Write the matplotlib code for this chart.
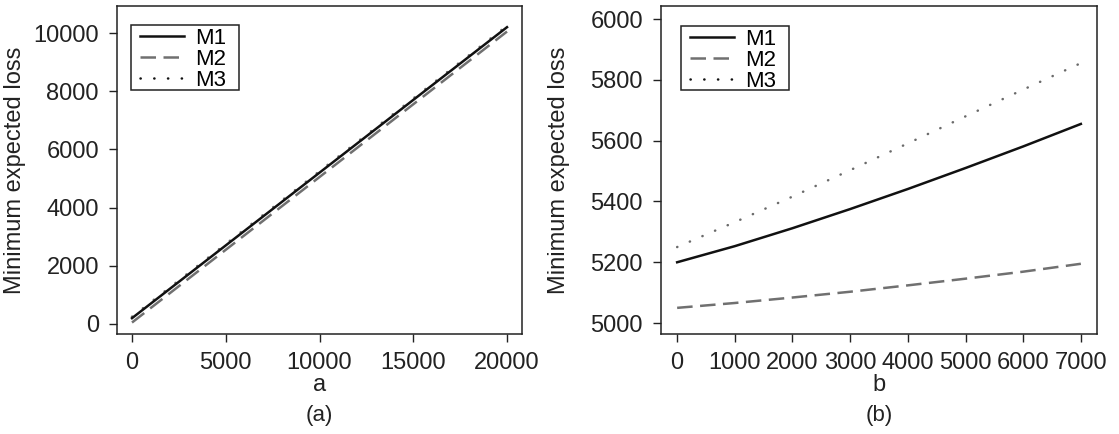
import matplotlib
matplotlib.use("Agg")
import matplotlib.pyplot as plt
from matplotlib.lines import Line2D
from matplotlib.patches import Rectangle

plt.rcParams['font.family'] = ['Liberation Sans', 'DejaVu Sans']

# Panel (a): loss vs a
a_vals = [0, 5000, 10000, 15000, 20000]
a_M1 = [200, 2700, 5200, 7700, 10200]
a_M2 = [50, 2550, 5050, 7550, 10050]
a_M3 = [250, 2750, 5250, 7750, 10250]
a_yticks = [0, 2000, 4000, 6000, 8000, 10000]
a_xticks = [0, 5000, 10000, 15000, 20000]

# Panel (b): loss vs b
b_vals = [0, 1000, 2000, 3000, 4000, 5000, 6000, 7000]
b_M1 = [5200, 5253, 5312, 5375, 5441, 5510, 5581, 5655]
b_M2 = [5050, 5066, 5084, 5103, 5124, 5146, 5169, 5195]
b_M3 = [5250, 5332, 5416, 5503, 5591, 5680, 5768, 5855]
b_yticks = [5000, 5200, 5400, 5600, 5800, 6000]
b_xticks = [0, 1000, 2000, 3000, 4000, 5000, 6000, 7000]

labels = ["M1", "M2", "M3"]
FS = 17
W, H = 1119, 434
fig = plt.figure(figsize=(W / 100, H / 100), dpi=100)

axA = fig.add_axes([117 / W, (H - 334) / H, 405 / W, 328 / H])
axB = fig.add_axes([661 / W, (H - 334) / H, 436 / W, 328 / H])

lw = 1.8
dash_style = (0, (6.2, 3.0))
dot_style = (0, (0.1, 5.4))
TXT = '#222222'


def draw(ax, x, m1, m2, m3):
    ax.plot(x, m3, color='#6a6a6a', lw=lw, linestyle=dot_style,
            dash_capstyle='round', zorder=2)
    ax.plot(x, m2, color='#707070', lw=lw, linestyle=dash_style,
            dash_capstyle='butt', zorder=3)
    ax.plot(x, m1, color='#111111', lw=lw, linestyle='-', zorder=4)


draw(axA, a_vals, a_M1, a_M2, a_M3)
draw(axB, b_vals, b_M1, b_M2, b_M3)

axA.set_xlim(-800, 20800)
axA.set_ylim(-344, 10928)
axA.set_xticks(a_xticks)
axA.set_yticks(a_yticks)

axB.set_xlim(-280, 7280)
axB.set_ylim(4964, 6043)
axB.set_xticks(b_xticks)
axB.set_yticks(b_yticks)

handles = [
    Line2D([], [], color='#111111', lw=lw, linestyle='-'),
    Line2D([], [], color='#707070', lw=lw, linestyle=dash_style),
    Line2D([], [], color='#111111', lw=lw, linestyle=dot_style,
           dash_capstyle='round'),
]

# (axes, xlabel, caption, ylabel x, legend frame px (x0, x1, y0, y1), axes px left, width)
specs = [(axA, 'a', '(a)', (15.5 - 117) / 405, (131, 239, 25, 90), 117, 405),
         (axB, 'b', '(b)', (559.5 - 661) / 436, (681, 789, 26, 90), 661, 436)]

for ax, xl, cap, ylx, fr, ax0, aw in specs:
    for s in ax.spines.values():
        s.set_linewidth(1.1)
        s.set_color(TXT)
    ax.tick_params(axis='both', direction='out', length=6, width=1.0,
                   color=TXT, labelsize=FS, labelcolor=TXT)
    ax.tick_params(axis='x', pad=7)
    ax.tick_params(axis='y', pad=7)
    ax.text(0.5, -0.1738, xl, transform=ax.transAxes, ha='center',
            va='baseline', fontsize=FS, color=TXT)
    ax.text(0.5, -0.265, cap, transform=ax.transAxes, ha='center',
            va='baseline', fontsize=FS - 1, color=TXT)
    ax.text(ylx, 0.5, 'Minimum expected loss', transform=ax.transAxes,
            ha='center', va='center', rotation=90, fontsize=FS, color=TXT)
    # legend frame drawn in axes fraction coordinates
    x0, x1, y0, y1 = fr
    ax.add_patch(Rectangle(((x0 - ax0) / aw, 1 - (y1 - 6) / 328),
                           (x1 - x0) / aw, (y1 - y0) / 328,
                           transform=ax.transAxes, facecolor='white',
                           edgecolor=TXT, lw=1.1, zorder=5))
    leg = ax.legend(handles, labels, loc='upper left',
                    bbox_to_anchor=((x0 + 9 - ax0) / aw, 1 - (y0 + 3 - 6) / 328),
                    borderaxespad=0, fontsize=16, handlelength=2.0,
                    handletextpad=0.5, labelspacing=0.0, borderpad=0.0,
                    frameon=False)
    leg.set_zorder(6)

fig.savefig('out.png', dpi=100)
